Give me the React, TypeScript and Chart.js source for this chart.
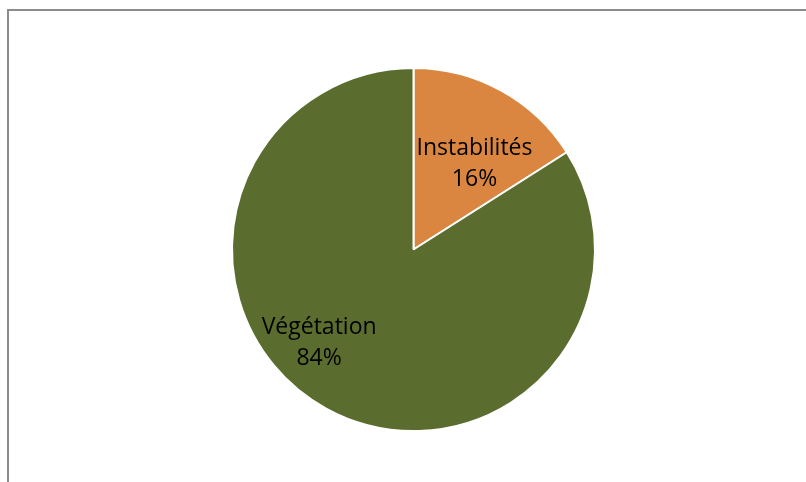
import React, { useEffect, useRef } from "react";
import { Chart, registerables } from "chart.js";

Chart.register(...registerables);

const categories = ["Instabilités", "Végétation"];
const values = [16, 84];
const percentLabels = ["16%", "84%"];
const colors = ["#DA8641", "#5B6D2E"];

// label anchor (first-line baseline) as fractions of the pie radius (x, y) from the centre
const labelAnchors: [number, number][] = [
  [0.336, -0.519],
  [-0.52, 0.464],
];

const framePlugin = {
  id: "frame",
  beforeDraw(chart: any) {
    const ctx = chart.ctx;
    ctx.save();
    ctx.fillStyle = "#ffffff";
    ctx.fillRect(0, 0, chart.width, chart.height);
    ctx.strokeStyle = "#8c8c8c";
    ctx.lineWidth = 2;
    ctx.strokeRect(8, 10, 1000, 1000);
    ctx.restore();
  },
};

const labelPlugin = {
  id: "pieLabels",
  afterDatasetsDraw(chart: any) {
    const ctx = chart.ctx;
    const meta = chart.getDatasetMeta(0);
    ctx.save();
    ctx.font = "23px 'Open Sans'";
    ctx.fillStyle = "#000000";
    ctx.textAlign = "center";
    ctx.textBaseline = "alphabetic";
    meta.data.forEach((arc: any, i: number) => {
      const r = arc.outerRadius;
      const x = arc.x + labelAnchors[i][0] * r;
      const y = arc.y + labelAnchors[i][1] * r;
      ctx.fillText(categories[i], x, y);
      ctx.fillText(percentLabels[i], x, y + 31);
    });
    ctx.restore();
  },
};

export default function App() {
  const ref = useRef<HTMLCanvasElement>(null);
  useEffect(() => {
    if (!ref.current) return;
    const chart = new Chart(ref.current, {
      type: "pie",
      data: {
        labels: categories,
        datasets: [
          {
            data: values,
            backgroundColor: colors,
            borderColor: "#ffffff",
            borderWidth: 2,
          },
        ],
      },
      options: {
        responsive: false,
        animation: false,
        layout: { padding: { left: 231, right: 210, top: 67, bottom: 50 } },
        plugins: {
          legend: { display: false },
          tooltip: { enabled: false },
        },
      },
      plugins: [framePlugin, labelPlugin],
    });
    return () => chart.destroy();
  }, []);
  return (
    <div style={{ position: "fixed", left: 0, top: 0, width: 806, height: 482 }}>
      <canvas ref={ref} width={806} height={482} style={{ display: "block" }} />
    </div>
  );
}
